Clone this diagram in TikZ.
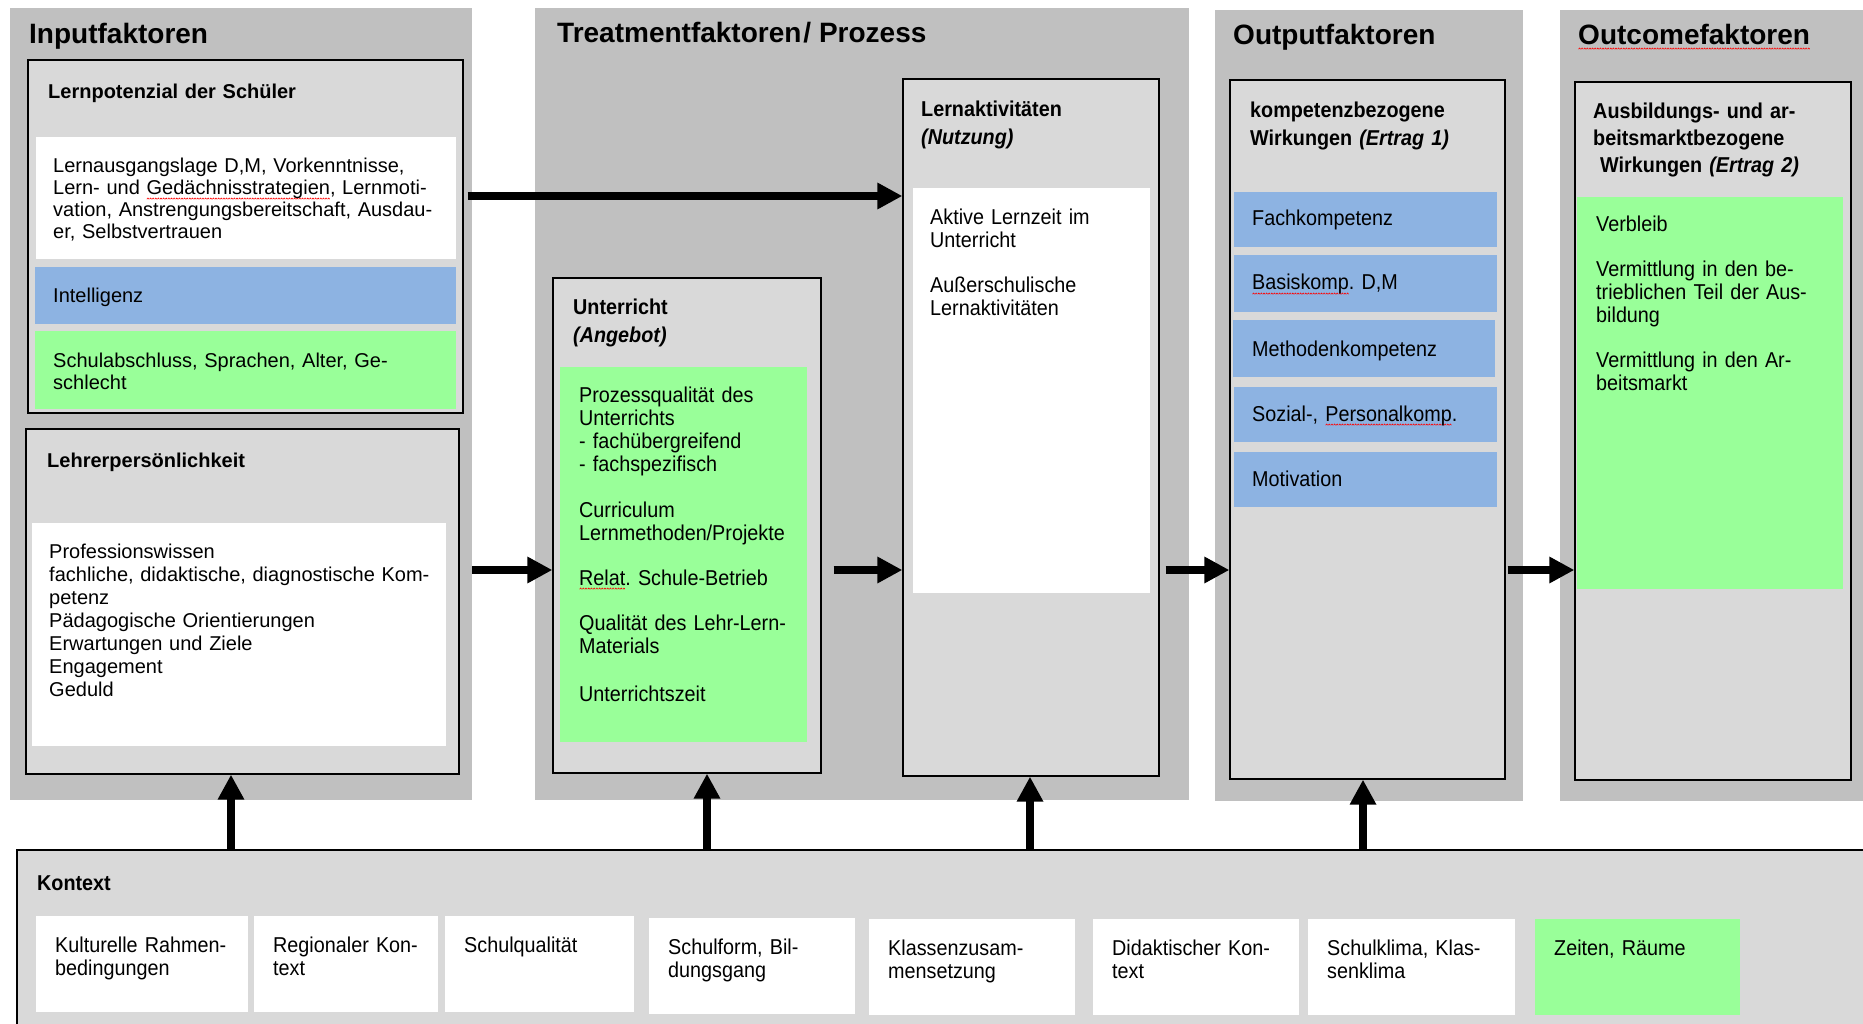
\documentclass[tikz,border=0pt]{standalone}
\usepackage{fontspec}
\setmainfont{Liberation Sans}
\newfontfamily\schmalsf{Liberation Sans}[FakeStretch=0.92]
\usepackage{xcolor}
\usepackage{tikz}
\usetikzlibrary{positioning}
\usetikzlibrary{fit}
\usetikzlibrary{arrows.meta}

\definecolor{spaltengrau}{RGB}{192,192,192}
\definecolor{kastengrau}{RGB}{217,217,217}
\definecolor{feldblau}{RGB}{141,179,226}
\definecolor{feldgruen}{RGB}{153,255,153}

% red wavy line under a word
\newsavebox{\wellenbox}
\sbox{\wellenbox}{\begin{pgfpicture}\pgfsetcolor{red}\pgfsetlinewidth{0.6pt}\pgfpathmoveto{\pgfpoint{0pt}{0pt}}\pgfpathlineto{\pgfpoint{1pt}{1.2pt}}\pgfpathlineto{\pgfpoint{2pt}{0pt}}\pgfusepath{stroke}\end{pgfpicture}}
\newlength{\wellenbreite}
\newcommand{\rotwelle}[1]{\leavevmode\settowidth{\wellenbreite}{#1}\rlap{\raisebox{-4.5pt}{\hbox to \wellenbreite{\xleaders\copy\wellenbox\hfil}}}#1}

\frenchspacing

\begin{document}
\begin{tikzpicture}[x=1pt, y=-1pt,
  spalte/.style={fill=spaltengrau, inner sep=0pt},
  kasten/.style={fill=kastengrau, draw=black, line width=1.3pt, inner sep=0pt},
  feld/.style={inner sep=0pt},
  kopf/.style={anchor=base west, inner sep=0pt, font=\bfseries\fontsize{28}{32}\selectfont},
  unterkopf/.style={anchor=base west, inner sep=0pt, align=left, text width=300pt, font=\bfseries\fontsize{20}{24}\selectfont},
  txt/.style={anchor=base west, inner sep=0pt, align=left, text width=420pt, font=\fontsize{20}{22}\selectfont},
  schmalkopf/.style={anchor=base west, inner sep=0pt, align=left, text width=300pt, font=\schmalsf\bfseries\fontsize{21.5}{28}\selectfont},
  schmaltxt/.style={anchor=base west, inner sep=0pt, align=left, text width=300pt, font=\schmalsf\fontsize{21.5}{23}\selectfont},
  pfeil/.style={line width=7.5pt, -{Triangle[width=25pt,length=25pt]}}
]

\useasboundingbox (0,0) rectangle (1863,1024);
\fill[white] (0,0) rectangle (1863,1024);

% columns
\node[spalte, fit={(10,8) (472,800)}] (inputspalte) {};
\node[spalte, fit={(535,8) (1189,800)}] (treatspalte) {};
\node[spalte, fit={(1215,10) (1523,801)}] (outputspalte) {};
\node[spalte, fit={(1560,10) (1880,801)}] (outcomespalte) {};

\node[kopf] (inputkopf) at (29,44) {Inputfaktoren};
\node[kopf] (treatkopf) at (557,43) {Treatmentfaktoren\hspace{2pt}/ Prozess};
\node[kopf] (outputkopf) at (1233,45) {Outputfaktoren};
\node[kopf] (outcomekopf) at (1578,45) {\rotwelle{Outcomefaktoren}};

% Inputfaktoren
\node[kasten, fit={(28,60) (463,413)}] (lernpot) {};
\node[unterkopf] (lernpotkopf) at (48,99) {Lernpotenzial der Schüler};
\node[feld, fill=white, fit={(36,137) (456,259)}] (lernpotweiss) {};
\node[txt] (lernpottxt) at (53,173) {Lernausgangslage D,M, Vorkenntnisse,\\Lern- und \rotwelle{Gedächnisstrategien}, Lernmoti-\\vation, Anstrengungsbereitschaft, Ausdau-\\er, Selbstvertrauen};
\node[feld, fill=feldblau, fit={(35,267) (456,324)}] (intelligenz) {};
\node[txt] (intelligenztxt) at (53,303) {Intelligenz};
\node[feld, fill=feldgruen, fit={(35,331) (456,409)}] (schulabschluss) {};
\node[txt] (schulabschlusstxt) at (53,367) {Schulabschluss, Sprachen, Alter, Ge-\\schlecht};

\node[kasten, fit={(26,429) (459,774)}] (lehrer) {};
\node[unterkopf] (lehrerkopf) at (47,467) {Lehrerpersönlichkeit};
\node[feld, fill=white, fit={(32,523) (446,746)}] (lehrerweiss) {};
\node[txt, font=\fontsize{20}{23}\selectfont] (lehrertxt) at (49,558) {Professionswissen\\fachliche, didaktische, diagnostische Kom-\\petenz\\Pädagogische Orientierungen\\Erwartungen und Ziele\\Engagement\\Geduld};

% Treatmentfaktoren
\node[kasten, fit={(553,278) (821,773)}] (unterricht) {};
\node[schmalkopf] (unterrichtkopf) at (573,315) {Unterricht\\\textit{(Angebot)}};
\node[feld, fill=feldgruen, fit={(560,367) (807,742)}] (angebot) {};
\node[schmaltxt] (angebottxt) at (579,402) {Prozessqualität des\\Unterrichts\\- fachübergreifend\\- fachspezifisch\\[23pt]Curriculum\\Lernmethoden/Projekte\\[22pt]\rotwelle{Relat}. Schule-Betrieb\\[22pt]Qualität des Lehr-Lern-\\Materials\\[25pt]Unterrichtszeit};

\node[kasten, fit={(903,79) (1159,776)}] (lernakt) {};
\node[schmalkopf] (lernaktkopf) at (921,117) {Lernaktivitäten\\\textit{(Nutzung)}};
\node[feld, fill=white, fit={(913,188) (1150,593)}] (nutzung) {};
\node[schmaltxt] (nutzungtxt) at (930,225) {Aktive Lernzeit im\\Unterricht\\[22pt]Außerschulische\\Lernaktivitäten};

% Outputfaktoren
\node[kasten, fit={(1230,80) (1505,779)}] (wirkung) {};
\node[schmalkopf] (wirkungkopf) at (1250,118) {kompetenzbezogene\\Wirkungen \textit{(Ertrag 1)}};
\node[feld, fill=feldblau, fit={(1234,192) (1497,247)}] (fachkomp) {};
\node[schmaltxt] (fachkomptxt) at (1252,226) {Fachkompetenz};
\node[feld, fill=feldblau, fit={(1234,255) (1497,312)}] (basiskomp) {};
\node[schmaltxt] (basiskomptxt) at (1252,290) {\rotwelle{Basiskomp}. D,M};
\node[feld, fill=feldblau, fit={(1233,320) (1495,377)}] (methodenkomp) {};
\node[schmaltxt] (methodenkomptxt) at (1252,356) {Methodenkompetenz};
\node[feld, fill=feldblau, fit={(1234,387) (1497,442)}] (sozialkomp) {};
\node[schmaltxt] (sozialkomptxt) at (1252,421) {Sozial-, \rotwelle{Personalkomp}.};
\node[feld, fill=feldblau, fit={(1234,452) (1497,507)}] (motivation) {};
\node[schmaltxt] (motivationtxt) at (1252,486) {Motivation};

% Outcomefaktoren
\node[kasten, fit={(1575,82) (1851,780)}] (ertrag) {};
\node[schmalkopf, font=\schmalsf\bfseries\fontsize{21.5}{27}\selectfont] (ertragkopf) at (1593,119) {Ausbildungs- und ar-\\beitsmarktbezogene\\\hspace*{7pt}Wirkungen \textit{(Ertrag 2)}};
\node[feld, fill=feldgruen, fit={(1577,197) (1843,589)}] (verbleib) {};
\node[schmaltxt] (verbleibtxt) at (1596,232) {Verbleib\\[22pt]Vermittlung in den be-\\trieblichen Teil der Aus-\\bildung\\[22pt]Vermittlung in den Ar-\\beitsmarkt};

% Kontext
\node[kasten, fit={(17,850) (1880,1040)}] (kontext) {};
\node[schmalkopf] (kontextkopf) at (37,890) {Kontext};

\node[feld, fill=white, fit={(36,916) (248,1012)}] (kultur) {};
\node[schmaltxt] (kulturtxt) at (55,952) {Kulturelle Rahmen-\\bedingungen};
\node[feld, fill=white, fit={(254,916) (438,1012)}] (region) {};
\node[schmaltxt] (regiontxt) at (273,952) {Regionaler Kon-\\text};
\node[feld, fill=white, fit={(445,916) (634,1012)}] (schulqual) {};
\node[schmaltxt] (schulqualtxt) at (464,952) {Schulqualität};
\node[feld, fill=white, fit={(649,918) (855,1014)}] (schulform) {};
\node[schmaltxt] (schulformtxt) at (668,954) {Schulform, Bil-\\dungsgang};
\node[feld, fill=white, fit={(869,919) (1075,1015)}] (klasse) {};
\node[schmaltxt] (klassetxt) at (888,955) {Klassenzusam-\\mensetzung};
\node[feld, fill=white, fit={(1093,919) (1299,1015)}] (didaktik) {};
\node[schmaltxt] (didaktiktxt) at (1112,955) {Didaktischer Kon-\\text};
\node[feld, fill=white, fit={(1308,919) (1515,1015)}] (klima) {};
\node[schmaltxt] (klimatxt) at (1327,955) {Schulklima, Klas-\\senklima};
\node[feld, fill=feldgruen, fit={(1535,919) (1740,1015)}] (zeiten) {};
\node[schmaltxt] (zeitentxt) at (1554,955) {Zeiten, Räume};

% arrows
\coordinate (hoehe1) at (0,196);
\coordinate (hoehe2) at (0,570);
\coordinate (spur1) at (231,0);
\coordinate (spur2) at (707,0);
\coordinate (spur3) at (1030,0);
\coordinate (spur4) at (1363,0);

\draw[pfeil, shorten <=4pt] (lernpot.east |- hoehe1) -- (lernakt.west |- hoehe1);
\draw[pfeil] (inputspalte.east |- hoehe2) -- (unterricht.west |- hoehe2);
\draw[pfeil, shorten <=12pt] (unterricht.east |- hoehe2) -- (lernakt.west |- hoehe2);
\draw[pfeil, shorten <=6pt] (lernakt.east |- hoehe2) -- (wirkung.west |- hoehe2);
\draw[pfeil, shorten <=2pt] (wirkung.east |- hoehe2) -- (ertrag.west |- hoehe2);

\draw[pfeil] (kontext.north -| spur1) -- (lehrer.south -| spur1);
\draw[pfeil] (kontext.north -| spur2) -- (unterricht.south -| spur2);
\draw[pfeil] (kontext.north -| spur3) -- (lernakt.south -| spur3);
\draw[pfeil] (kontext.north -| spur4) -- (wirkung.south -| spur4);

\end{tikzpicture}
\end{document}
